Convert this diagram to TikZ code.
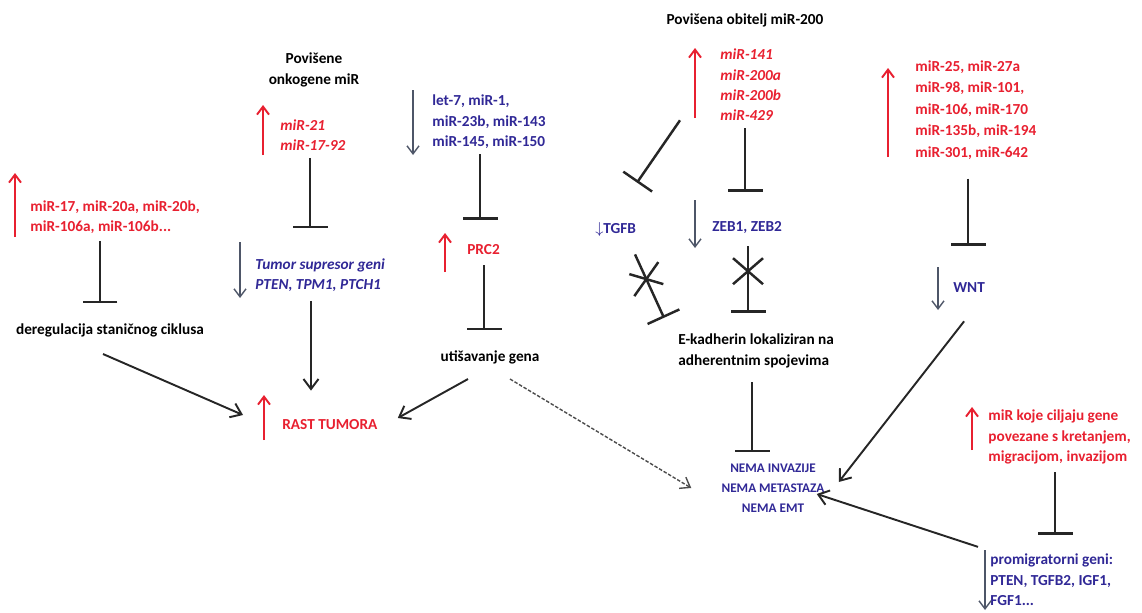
\documentclass[tikz,border=0pt]{standalone}
\usepackage{fontspec}
\setmainfont{Carlito}
\usepackage{tikz}
\usetikzlibrary{
    arrows.meta
}
\usepackage{xcolor}
\definecolor{mirred}{RGB}{232,32,48}
\definecolor{geneblue}{RGB}{48,40,150}
\definecolor{arrowgray}{RGB}{78,86,104}

\begin{document}
\begin{tikzpicture}[
    x=0.02cm, y=-0.02cm,
    lbl/.style={
        inner sep=0pt, align=left,
        font=\fontsize{8.7}{11.6}\selectfont\bfseries
    },
    ital/.style={lbl, font=\fontsize{8.7}{11.6}\selectfont\bfseries\itshape},
    up/.style={-{Straight Barb[length=1.6mm, width=2.4mm]}, line width=1.1pt, mirred},
    down/.style={-{Straight Barb[length=1.6mm, width=2.4mm]}, line width=0.8pt, arrowgray},
    inh/.style={-{Bar[width=7mm, line width=1.4pt]}, line width=1.4pt, black!85},
    cross/.style={line width=1.4pt, black!85},
    conn/.style={-{Straight Barb[length=2mm, width=3mm]}, line width=1.1pt, black!85}
]
\useasboundingbox (0,0) rectangle (1142,612);

% Cell cycle branch
\node[lbl, text=mirred, anchor=west] (mirA) at (30,217) {miR-17, miR-20a, miR-20b,\\miR-106a, miR-106b...};
\node[lbl, align=center] (dereg) at (110,330) {deregulacija staničnog ciklusa};

% Oncogenic miRs
\node[lbl, align=center] (povOnk) at (314,70) {Povišene\\onkogene miR};
\node[ital, text=mirred, anchor=west] (mirOnk) at (280,135) {miR-21\\miR-17-92};
\node[ital, text=geneblue, anchor=west] (tsg) at (255,275) {Tumor supresor geni\\PTEN, TPM1, PTCH1};
\node[lbl, text=mirred, anchor=west] (rast) at (282,425) {RAST TUMORA};

% Gene silencing branch
\node[lbl, text=geneblue, anchor=west] (letmir) at (432,122) {let-7, miR-1,\\miR-23b, miR-143\\miR-145, miR-150};
\node[lbl, text=mirred, anchor=west] (prc) at (467,250) {PRC2};
\node[lbl, align=center] (util) at (490,357) {utišavanje gena};

% miR-200 family
\node[lbl, align=center] (pov200) at (745,20) {Povišena obitelj miR-200};
\node[ital, text=mirred, anchor=west] (mir200) at (720,85) {miR-141\\miR-200a\\miR-200b\\miR-429};
\node[lbl, text=geneblue, anchor=west] (tgfb) at (595,230) {$\downarrow$TGFB};
\node[lbl, text=geneblue, anchor=west] (zeb) at (712,228) {ZEB1, ZEB2};
\node[lbl, anchor=west] (ecad) at (678,351) {E-kadherin lokaliziran na\\adherentnim spojevima};
\node[lbl, text=geneblue, align=center, font=\fontsize{7.5}{11.4}\selectfont\bfseries] (nema) at (773,488) {NEMA INVAZIJE\\NEMA METASTAZA\\NEMA EMT};

% WNT and migration
\node[lbl, text=mirred, anchor=west, font=\fontsize{8.7}{12.2}\selectfont\bfseries] (mirWnt) at (915,110) {miR-25, miR-27a\\miR-98, miR-101,\\miR-106, miR-170\\miR-135b, miR-194\\miR-301, miR-642};
\node[lbl, text=geneblue, anchor=west] (wnt) at (953,288) {WNT};
\node[lbl, text=mirred, anchor=west] (mirMig) at (988,437) {miR koje ciljaju gene\\povezane s kretanjem,\\migracijom, invazijom};
\node[lbl, text=geneblue, anchor=west] (promig) at (990,580) {promigratorni geni:\\PTEN, TGFB2, IGF1,\\FGF1...};

% Up / down markers
\foreach \x/\ya/\yb in {15/237/173, 263/155/105, 445/272/233, 695/118/48, 888/157/68, 972/450/407, 264/440/395} {
    \draw[up] (\x,\ya) -- (\x,\yb);
}
\foreach \x/\ya/\yb in {240/242/298, 413/90/155, 695/200/248, 938/267/310, 985/550/610} {
    \draw[down] (\x,\ya) -- (\x,\yb);
}

% Inhibitions
\draw[inh, shorten <=0.14cm, shorten >=0.4cm] (mirA.south -| 100,0) -- (dereg.north -| 100,0);
\draw[inh, shorten <=0.14cm, shorten >=0.6cm] (mirOnk.south -| 310,0) -- (tsg.north -| 310,0);
\draw[inh, shorten <=0.1cm, shorten >=0.5cm] (letmir.south -| 480,0) -- (prc.north -| 480,0);
\draw[inh, shorten <=0.2cm, shorten >=0.4cm] (prc.south -| 484,0) -- (util.north -| 484,0);
\draw[inh] ([shift={(-40,-1)}]mir200.south west) -- ([shift={(42,-40)}]tgfb.north west);
\draw[inh, shorten <=0.14cm, shorten >=0.6cm] (mir200.south -| 745,0) -- (zeb.north -| 745,0);
\draw[inh, shorten <=0.28cm, shorten >=0.22cm] (ecad.south -| 752,0) -- (nema.north -| 752,0);
\draw[inh, shorten <=0.38cm, shorten >=0.74cm] (mirWnt.south -| 968,0) -- (wnt.north -| 968,0);
\draw[inh, shorten <=0.16cm, shorten >=0.38cm] (mirMig.south -| 1055,0) -- (promig.north -| 1055,0);

% Blocked inhibitions
\draw[inh] ([shift={(40,17)}]tgfb.south west) -- coordinate[pos=0.39] (xa) ([shift={(-14,-16)}]ecad.north west);
\draw[cross] ([shift={(-17,-5)}]xa) -- ([shift={(17,5)}]xa);
\draw[cross] ([shift={(-12,17)}]xa) -- ([shift={(12,-17)}]xa);
\draw[inh, shorten <=0.24cm, shorten >=0.42cm] (zeb.south -| 748,0) -- coordinate[pos=0.37] (xb) (ecad.north -| 748,0);
\draw[cross] ([shift={(-15,-13)}]xb) -- ([shift={(15,13)}]xb);
\draw[cross] ([shift={(-15,13)}]xb) -- ([shift={(15,-13)}]xb);

% Activations
\draw[conn] ([shift={(-7,17)}]dereg.south) -- ([shift={(-39,-10)}]rast.west);
\draw[conn, shorten <=0.18cm, shorten >=0.58cm] (tsg.south -| 311,0) -- (rast.north -| 311,0);
\draw[conn] ([shift={(-22,15)}]util.south) -- ([shift={(20,-7)}]rast.east);
\draw[-{Straight Barb[length=1.8mm, width=2.6mm]}, dash pattern=on 2pt off 1pt, line width=0.8pt, black!70] ([shift={(20,15)}]util.south) -- ([shift={(-30,0)}]nema.west);
\draw[conn] ([shift={(-5,28)}]wnt.south) -- ([shift={(14,-6)}]nema.east);
\draw[conn] ([shift={(-12,-7)}]promig.north west) -- ([shift={(-8,6)}]nema.east);

\end{tikzpicture}
\end{document}
